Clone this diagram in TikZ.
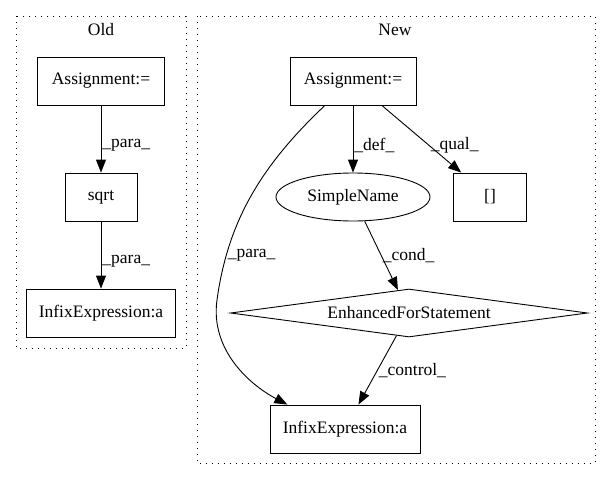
\documentclass[tikz,border=0pt]{standalone}
\usepackage{fontspec}
\setmainfont{Liberation Serif}
\usetikzlibrary{arrows.meta,shapes.geometric}

\begin{document}
\begin{tikzpicture}[x=1pt,y=-1pt,
    font=\fontsize{17.5}{20}\selectfont,
    cluster/.style={draw,line width=0.9pt,dash pattern=on 1pt off 5pt},
    box/.style={shape=rectangle,draw,line width=0.9pt,minimum height=48pt,inner sep=0pt},
    edge/.style={draw,line width=0.9pt,-{Triangle[length=13pt,width=10pt]}},
    elbl/.style={anchor=west,inner sep=1pt}]
    \useasboundingbox (0,0) rectangle (611,480);
    % clusters
    \draw[cluster] (16,16) rectangle (186,348);
    \draw[cluster] (197,16) rectangle (595,463);
    \node (oldlbl) at (101,30) {Old};
    \node (newlbl) at (395,30) {New};
    % old
    \node[box,minimum width=127pt] (aold) at (101,81) {Assignment:=};
    \node[box,minimum width=72pt] (sqrt) at (101,197) {sqrt};
    \node[box,minimum width=149pt] (iold) at (101,313) {InfixExpression:a};
    \draw[edge] (aold) -- node[elbl,pos=0.6] {\_para\_} (sqrt);
    \draw[edge] (sqrt) -- node[elbl,pos=0.6] {\_para\_} (iold);
    % new
    \node[box,minimum width=126pt] (anew) at (353,81) {Assignment:=};
    \node[shape=ellipse,draw,line width=0.9pt,minimum width=154pt,minimum height=48pt,inner sep=0pt] (sname) at (353,197) {SimpleName};
    \node[box,minimum width=73pt] (brk) at (490,197) {[]};
    \node[shape=diamond,draw,line width=0.9pt,aspect=7.4,inner sep=0pt,minimum width=357pt,minimum height=48pt] (efor) at (409,313) {EnhancedForStatement};
    \node[box,minimum width=150pt] (inew) at (345,429) {InfixExpression:a};
    \coordinate (bend) at (217,300);
    \draw[edge] (anew) -- node[elbl,pos=0.6] {\_def\_} (sname);
    \draw[edge] (anew) -- node[elbl,pos=0.6] {\_qual\_} (brk);
    \draw[edge] (sname) -- node[elbl,pos=0.5] {\_cond\_} (efor);
    \draw[edge] (efor) -- node[elbl,pos=0.5] {\_control\_} (inew);
    \draw[edge] (anew.-139) .. controls (262,165) and (228,220) .. node[elbl,pos=0.8] {\_para\_} (bend)
        .. controls (210,350) and (250,385) .. (inew.157);
\end{tikzpicture}
\end{document}
